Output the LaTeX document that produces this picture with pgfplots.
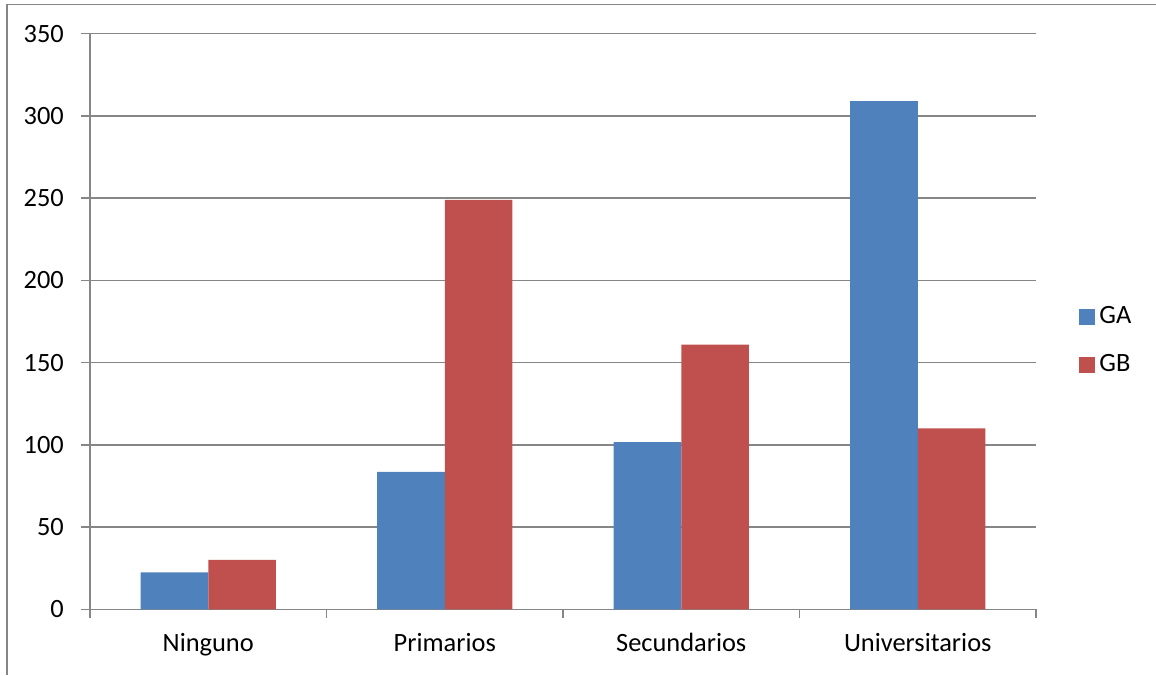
\documentclass[border=0pt]{standalone}
\usepackage{pgfplots}
\pgfplotsset{compat=1.18}
\usepackage{fontspec}
\setmainfont{Carlito}
\definecolor{gablue}{HTML}{4F81BD}
\definecolor{gbred}{HTML}{C0504D}
\definecolor{axisgray}{HTML}{868686}
\begin{document}
\fontsize{13.2}{15.8}\selectfont
\begin{tikzpicture}
\useasboundingbox (0,0) rectangle (578pt,337.5pt);
% outer chart frame
\draw[axisgray, line width=0.75pt] (3.5pt,0) -- (3.5pt,335.2pt) -- (578pt,335.2pt);
\begin{axis}[
  at={(45pt,32.85pt)}, anchor=south west,
  scale only axis,
  width=473pt, height=287.8pt,
  xmin=-0.5, xmax=3.5,
  ymin=0, ymax=350,
  ytick={0,50,...,350},
  xtick={-0.5,0.5,1.5,2.5,3.5},
  x tick label as interval,
  xticklabels={Ninguno,Primarios,Secundarios,Universitarios},
  axis x line*=bottom, axis y line*=left,
  axis line style={axisgray, line width=0.75pt, -},
  tick style={axisgray, line width=0.75pt},
  tick align=outside,
  major tick length=4.5pt,
  ymajorgrids,
  grid style={axisgray, line width=0.75pt},
  /pgf/number format/assume math mode=true,
  tick label style={font=\fontsize{13.2}{15.8}\selectfont, black},
  yticklabel style={xshift=-4pt},
  xticklabel style={yshift=-3pt},
  ybar, bar width=0.286,
  legend style={at={(1.0455,0.466)}, anchor=west, draw=none, fill=none,
    font=\fontsize{13.2}{15.8}\selectfont, row sep=9.5pt, inner sep=0pt},
  legend cell align=left,
  legend image code/.code={\fill[#1] (0pt,-4pt) rectangle (8pt,4pt);},
]
\addplot[fill=gablue, draw=none, bar shift=-0.143] coordinates {(0,22.5) (1,83.5) (2,101.7) (3,309)};
\addlegendentry{GA}
\addplot[fill=gbred, draw=none, bar shift=0.143] coordinates {(0,30) (1,249) (2,161) (3,110)};
\addlegendentry{GB}
\end{axis}
\end{tikzpicture}
\end{document}
